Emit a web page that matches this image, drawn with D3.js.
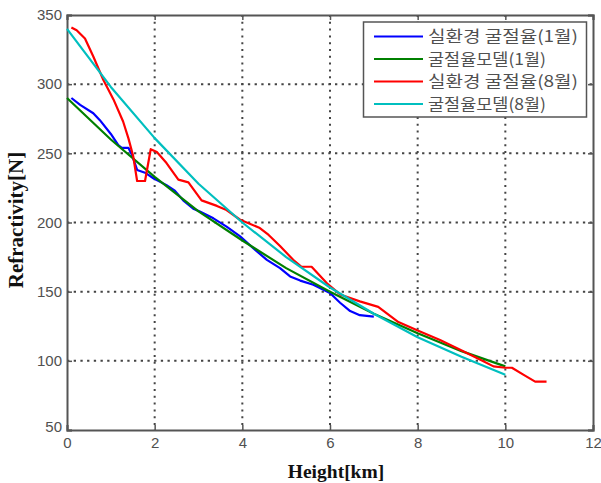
<!DOCTYPE html>
<html>
<head>
<meta charset="utf-8">
<script src="https://cdn.jsdelivr.net/npm/d3@7"></script>
<style>
  html, body { margin: 0; padding: 0; background: #fff; }
  svg { display: block; }
</style>
</head>
<body>
<svg id="chart" width="601" height="483"></svg>
<script>
// Height [km] / refractivity [N] samples
const janMeasured = [
  [0.1,290],[0.3,285],[0.6,279],[0.75,274],[1.0,264],[1.17,256],[1.25,254],[1.4,254],
  [1.48,249],[1.6,238],[1.78,236],[1.97,232],[2.27,227],[2.46,223],[2.65,216],[2.88,210],
  [3.03,208],[3.34,203],[3.64,197],[3.95,190],[4.3,180],[4.56,173],[4.86,167],[5.09,161],
  [5.32,158],[5.62,155],[6.0,149],[6.23,142],[6.46,136],[6.68,133],[7.0,132]
];
const janModel = [
  [0,290],[1,260],[2,233],[3,208],[4,187],[5,167],[6,150],[7,134],[8,120],[9,107],[10,96]
];
const augMeasured = [
  [0.1,341],[0.22,339],[0.41,333],[0.6,320],[0.83,303],[1.06,289],[1.28,273],[1.4,261],
  [1.51,248],[1.6,230],[1.78,230],[1.91,253],[2.05,251],[2.27,243],[2.54,231],[2.77,229],
  [3.07,216],[3.42,212],[3.64,209],[3.95,202],[4.4,196],[4.6,191],[4.86,183],[5.16,173],
  [5.35,168],[5.58,168],[5.93,156],[6.23,148],[6.68,143],[7.1,139],[7.56,128],[8.0,122],
  [8.51,115],[8.97,108],[9.42,101],[9.73,96],[10.0,95],[10.15,95],[10.41,90],[10.68,85],[10.94,85]
];
const augModel = [
  [0,340],[1,298],[2,261],[3,228],[4,200],[5,175],[6,153],[7,134],[8,117],[9,103],[10,90]
];

const seriesNames = ["실환경 굴절율(1월)", "굴절율모델(1월)", "실환경 굴절율(8월)", "굴절율모델(8월)"];
const seriesColors = ["#0000ff", "#008000", "#ff0000", "#00bfbf"];
const seriesData = [janMeasured, janModel, augMeasured, augModel];

const xTicks = [0, 2, 4, 6, 8, 10, 12];
const yTicks = [50, 100, 150, 200, 250, 300, 350];

const xLabel = "Height[km]";
const yLabel = "Refractivity[N]";

const svg = d3.select("#chart");
const plotLeft = 67, plotRight = 593, plotTop = 15, plotBottom = 430;

const x = d3.scaleLinear().domain([0, 12]).range([plotLeft, plotRight]);
const y = d3.scaleLinear().domain([50, 350]).range([plotBottom, plotTop]);

const gridColor = "#444";
const frameColor = "#555";
const textColor = "#505050";

// dotted grid
const grid = svg.append("g");
grid.selectAll("line.vx").data(xTicks.slice(1, -1)).join("line")
  .attr("x1", d => x(d)).attr("x2", d => x(d))
  .attr("y1", plotTop).attr("y2", plotBottom)
  .attr("stroke", gridColor).attr("stroke-width", 2)
  .attr("stroke-dasharray", "2,4.8");
grid.selectAll("line.hy").data(yTicks.slice(1, -1)).join("line")
  .attr("y1", d => y(d)).attr("y2", d => y(d))
  .attr("x1", plotLeft).attr("x2", plotRight)
  .attr("stroke", gridColor).attr("stroke-width", 2)
  .attr("stroke-dasharray", "2.3,4.4");

// axes with inward ticks
const axisFont = "'Liberation Sans', Arial, sans-serif";
const gx = svg.append("g").attr("transform", `translate(0,${plotBottom})`)
  .call(d3.axisBottom(x).tickValues(xTicks).tickSize(-5).tickPadding(7).tickFormat(d3.format("d")));
const gxTop = svg.append("g").attr("transform", `translate(0,${plotTop})`)
  .call(d3.axisTop(x).tickValues(xTicks).tickSize(-5).tickFormat(""));
const gy = svg.append("g").attr("transform", `translate(${plotLeft},0)`)
  .call(d3.axisLeft(y).tickValues(yTicks).tickSize(-5).tickPadding(9).tickFormat(d3.format("d")));
const gyRight = svg.append("g").attr("transform", `translate(${plotRight},0)`)
  .call(d3.axisRight(y).tickValues(yTicks).tickSize(-5).tickFormat(""));

[gx, gxTop, gy, gyRight].forEach(g => {
  g.select(".domain").attr("stroke", frameColor).attr("stroke-width", 2);
  g.selectAll(".tick line").attr("stroke", frameColor).attr("stroke-width", 1.5);
  g.selectAll(".tick text")
    .attr("fill", textColor)
    .style("font-family", axisFont)
    .style("font-size", "15px");
});
gy.selectAll(".tick text").attr("dx", "4px");
gy.selectAll(".tick").filter(d => d === 50).select("text").attr("dy", "0.1em");

// series lines
const line = d3.line().x(d => x(d[0])).y(d => y(d[1]));
svg.append("g").selectAll("path").data(seriesData).join("path")
  .attr("d", line)
  .attr("fill", "none")
  .attr("stroke", (d, i) => seriesColors[i])
  .attr("stroke-width", 2.2)
  .attr("stroke-linejoin", "round");

// axis titles
svg.append("text")
  .attr("x", 336).attr("y", 478)
  .attr("text-anchor", "middle")
  .style("font-family", "'Liberation Serif', 'Times New Roman', serif")
  .style("font-weight", "bold").style("font-size", "19.5px")
  .attr("fill", "#111")
  .text(xLabel);
svg.append("text")
  .attr("transform", "translate(22.5,220) rotate(-90)")
  .attr("text-anchor", "middle")
  .style("font-family", "'Liberation Serif', 'Times New Roman', serif")
  .style("font-weight", "bold").style("font-size", "21px")
  .attr("fill", "#111")
  .text(yLabel);

// legend
const legend = svg.append("g");
legend.append("rect")
  .attr("x", 363.5).attr("y", 22).attr("width", 223).attr("height", 95)
  .attr("fill", "#fff").attr("stroke", frameColor).attr("stroke-width", 1.5);
const rowY = [36.5, 59, 81.5, 104];
const textWidths = [150, 118, 150, 118];
const items = legend.selectAll("g.item").data(seriesNames).join("g")
  .attr("transform", (d, i) => `translate(0,${rowY[i]})`);
items.append("line")
  .attr("x1", 374).attr("x2", 423)
  .attr("stroke", (d, i) => seriesColors[i]).attr("stroke-width", 2.2);
items.append("text")
  .attr("x", 428).attr("dy", "0.36em")
  .style("font-family", "'Noto Sans CJK KR', sans-serif")
  .style("font-size", "16px")
  .attr("fill", textColor)
  .attr("textLength", (d, i) => textWidths[i])
  .attr("lengthAdjust", "spacingAndGlyphs")
  .text(d => d);
</script>
</body>
</html>
